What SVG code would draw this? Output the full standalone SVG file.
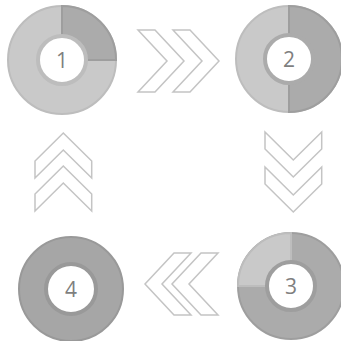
<svg xmlns="http://www.w3.org/2000/svg" width="341" height="341" viewBox="0 0 341 341">
<style>
.light{fill:#c9c9c9;stroke:#bdbdbd;stroke-width:2}
.dark{fill:#ababab;stroke:#9e9e9e;stroke-width:2}
.darker{fill:#a6a6a6;stroke:#999;stroke-width:2}
.hole{fill:#fff;stroke-width:4}
.num{font-family:"Open Sans","Noto Sans",sans-serif;font-size:21px;fill:#7f7f7f;text-anchor:middle}
.chev{fill:#fff;stroke:#c4c4c4;stroke-width:1.5;stroke-linejoin:miter}
</style>
<rect width="341" height="341" fill="#fff"/>
<g id="node1">
<circle class="light" cx="62" cy="60" r="54"/>
<path class="dark" d="M62,60 L62,6 A54,54 0 0 1 116,60 Z"/>
<circle class="hole" cx="62" cy="60" r="24" stroke="#bdbdbd"/>
<text class="num" x="62" y="68">1</text>
</g>
<g id="node2">
<circle class="light" cx="289" cy="59" r="53"/>
<path class="dark" d="M289,6 A53,53 0 0 1 289,112 Z"/>
<circle class="hole" cx="289" cy="59" r="24" stroke="#ababab"/>
<text class="num" x="289" y="67">2</text>
</g>
<g id="node3">
<circle class="dark" cx="291" cy="286" r="53"/>
<path class="light" d="M291,286 L238,286 A53,53 0 0 1 291,233 Z"/>
<circle class="hole" cx="291" cy="286" r="24" stroke="#9e9e9e"/>
<text class="num" x="291" y="294">3</text>
</g>
<g id="node4">
<circle class="darker" cx="71" cy="289" r="52"/>
<circle class="hole" cx="71" cy="289" r="25" stroke="#999"/>
<text class="num" x="71" y="297">4</text>
</g>
<g id="connectors">
<g id="right-chevrons">
<path class="chev" d="M138,30 L155,30 L184,61 L155,92 L138,92 L167,61 Z"/>
<path class="chev" d="M173,30 L190,30 L219,61 L190,92 L173,92 L202,61 Z"/>
</g>
<g id="down-chevrons">
<path class="chev" d="M265,132 L293.3,160 L321.7,132 L321.7,149 L293.3,177 L265,149 Z"/>
<path class="chev" d="M265,167 L293.3,195 L321.7,167 L321.7,184 L293.3,212 L265,184 Z"/>
</g>
<g id="left-chevrons">
<path class="chev" d="M145,284 L174,253 L191,253 L162,284 L191,315 L174,315 Z"/>
<path class="chev" d="M172,284 L201,253 L218,253 L189,284 L218,315 L201,315 Z"/>
</g>
<g id="up-chevrons">
<path class="chev" d="M63.3,133 L91.7,161 L91.7,178 L63.3,150 L35,178 L35,161 Z"/>
<path class="chev" d="M63.3,166 L91.7,194 L91.7,211 L63.3,183 L35,211 L35,194 Z"/>
</g>
</g>
</svg>
